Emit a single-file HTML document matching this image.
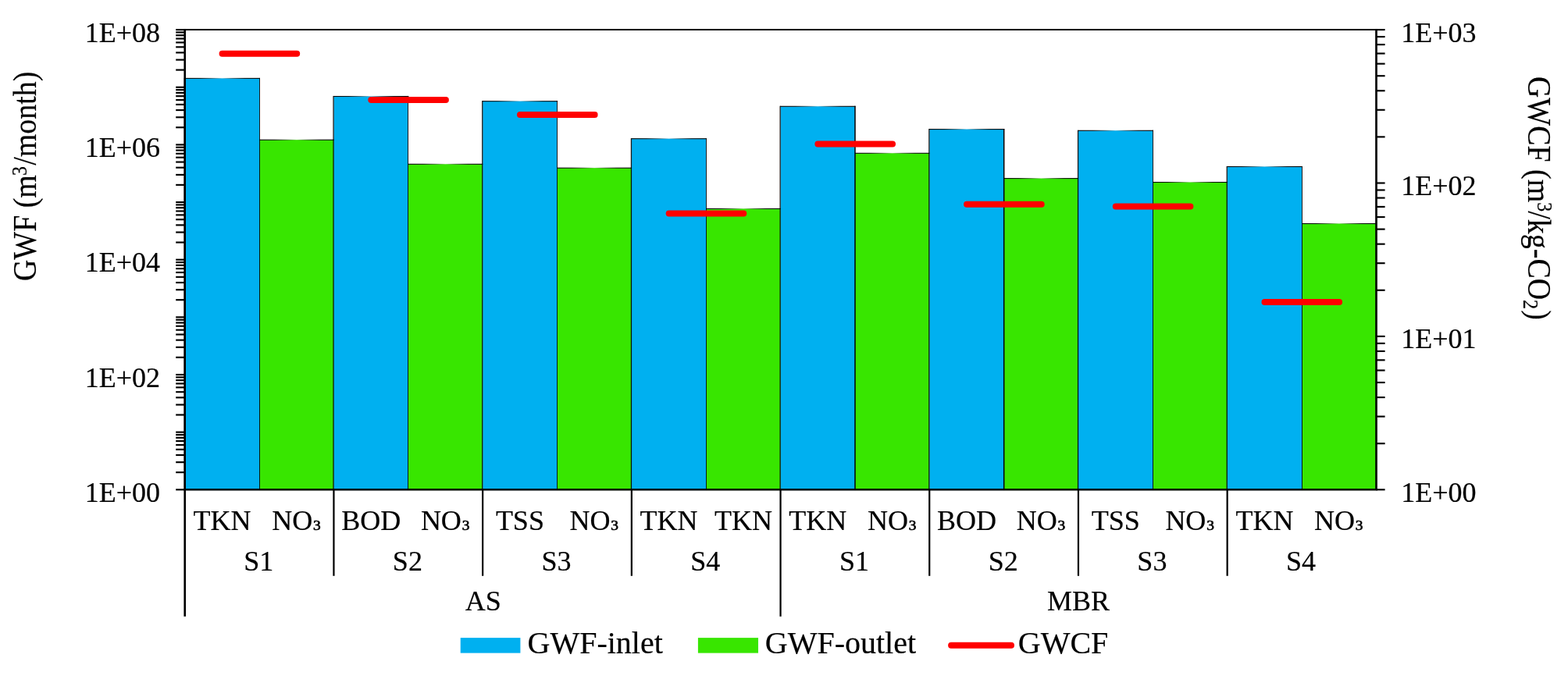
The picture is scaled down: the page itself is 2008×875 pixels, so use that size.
<!DOCTYPE html>
<html lang="en"><head><meta charset="utf-8"><title>GWF and GWCF chart</title>
<style>
html,body{margin:0;padding:0;background:#fff;}
body{width:2008px;height:875px;overflow:hidden;}
svg{display:block;}
</style></head><body>
<svg width="2008" height="875" viewBox="0 0 2008 875" font-family='"Liberation Serif", "DejaVu Serif", serif' fill="#000">
<defs><linearGradient id="edge" x1="0" y1="0" x2="1" y2="0"><stop offset="0" stop-color="#000" stop-opacity="1"/><stop offset="0.2" stop-color="#000" stop-opacity="0.9"/><stop offset="0.36" stop-color="#000" stop-opacity="0.5"/><stop offset="0.5" stop-color="#000" stop-opacity="0.05"/><stop offset="0.64" stop-color="#000" stop-opacity="0.5"/><stop offset="0.8" stop-color="#000" stop-opacity="0.9"/><stop offset="1" stop-color="#000" stop-opacity="1"/></linearGradient></defs>
<rect x="0" y="0" width="2008" height="875" fill="#fff"/>
<g>
<rect x="332.19" y="179.20" width="95.35" height="448.10" fill="#38E600"/><rect x="331.69" y="178.65" width="96.35" height="1.1" fill="url(#edge)"/>
<rect x="522.89" y="210.30" width="95.35" height="417.00" fill="#38E600"/><rect x="522.39" y="209.75" width="96.35" height="1.1" fill="url(#edge)"/>
<rect x="713.59" y="215.20" width="95.35" height="412.10" fill="#38E600"/><rect x="713.09" y="214.65" width="96.35" height="1.1" fill="url(#edge)"/>
<rect x="904.29" y="267.40" width="95.35" height="359.90" fill="#38E600"/><rect x="903.79" y="266.85" width="96.35" height="1.1" fill="url(#edge)"/>
<rect x="1094.99" y="196.30" width="95.35" height="431.00" fill="#38E600"/><rect x="1094.49" y="195.75" width="96.35" height="1.1" fill="url(#edge)"/>
<rect x="1285.69" y="228.60" width="95.35" height="398.70" fill="#38E600"/><rect x="1285.19" y="228.05" width="96.35" height="1.1" fill="url(#edge)"/>
<rect x="1476.39" y="233.50" width="95.35" height="393.80" fill="#38E600"/><rect x="1475.89" y="232.95" width="96.35" height="1.1" fill="url(#edge)"/>
<rect x="1667.09" y="286.50" width="95.35" height="340.80" fill="#38E600"/><rect x="1666.59" y="285.95" width="96.35" height="1.1" fill="url(#edge)"/>
<rect x="236.84" y="100.40" width="95.35" height="526.90" fill="#00B0F0"/><rect x="236.34" y="99.85" width="96.35" height="1.1" fill="url(#edge)"/><rect x="235.69" y="99.85" width="1.3" height="527.45" fill="#000" fill-opacity="0.9"/><rect x="332" y="99.85" width="1" height="527.45" fill="#000" fill-opacity="0.88"/>
<rect x="427.54" y="123.50" width="95.35" height="503.80" fill="#00B0F0"/><rect x="427.04" y="122.95" width="96.35" height="1.1" fill="url(#edge)"/><rect x="426.39" y="122.95" width="1.3" height="504.35" fill="#000" fill-opacity="0.9"/><rect x="522" y="122.95" width="1" height="504.35" fill="#000" fill-opacity="0.88"/>
<rect x="618.24" y="129.70" width="95.35" height="497.60" fill="#00B0F0"/><rect x="617.74" y="129.15" width="96.35" height="1.1" fill="url(#edge)"/><rect x="617.09" y="129.15" width="1.3" height="498.15" fill="#000" fill-opacity="0.9"/><rect x="713" y="129.15" width="1" height="498.15" fill="#000" fill-opacity="0.88"/>
<rect x="808.94" y="177.70" width="95.35" height="449.60" fill="#00B0F0"/><rect x="808.44" y="177.15" width="96.35" height="1.1" fill="url(#edge)"/><rect x="807.79" y="177.15" width="1.3" height="450.15" fill="#000" fill-opacity="0.9"/><rect x="904" y="177.15" width="1" height="450.15" fill="#000" fill-opacity="0.88"/>
<rect x="999.64" y="136.30" width="95.35" height="491.00" fill="#00B0F0"/><rect x="999.14" y="135.75" width="96.35" height="1.1" fill="url(#edge)"/><rect x="998.49" y="135.75" width="1.3" height="491.55" fill="#000" fill-opacity="0.9"/><rect x="1094.24" y="135.75" width="1.5" height="491.55" fill="#000"/>
<rect x="1190.34" y="165.60" width="95.35" height="461.70" fill="#00B0F0"/><rect x="1189.84" y="165.05" width="96.35" height="1.1" fill="url(#edge)"/><rect x="1189.19" y="165.05" width="1.3" height="462.25" fill="#000" fill-opacity="0.9"/><rect x="1284.94" y="165.05" width="1.5" height="462.25" fill="#000"/>
<rect x="1381.04" y="167.30" width="95.35" height="460.00" fill="#00B0F0"/><rect x="1380.54" y="166.75" width="96.35" height="1.1" fill="url(#edge)"/><rect x="1379.89" y="166.75" width="1.3" height="460.55" fill="#000" fill-opacity="0.9"/><rect x="1476" y="166.75" width="1" height="460.55" fill="#000" fill-opacity="0.88"/>
<rect x="1571.74" y="213.50" width="95.35" height="413.80" fill="#00B0F0"/><rect x="1571.24" y="212.95" width="96.35" height="1.1" fill="url(#edge)"/><rect x="1570.59" y="212.95" width="1.3" height="414.35" fill="#000" fill-opacity="0.9"/><rect x="1667" y="212.95" width="1" height="414.35" fill="#000" fill-opacity="0.88"/>
</g>
<g stroke="#FF0000" stroke-width="8" stroke-linecap="round">
<line x1="284.59" y1="68.8" x2="380.19" y2="68.8"/>
<line x1="475.29" y1="128.0" x2="570.89" y2="128.0"/>
<line x1="665.99" y1="146.9" x2="761.59" y2="146.9"/>
<line x1="856.69" y1="273.5" x2="952.29" y2="273.5"/>
<line x1="1047.39" y1="184.5" x2="1142.99" y2="184.5"/>
<line x1="1238.09" y1="261.8" x2="1333.69" y2="261.8"/>
<line x1="1428.79" y1="264.5" x2="1524.39" y2="264.5"/>
<line x1="1619.49" y1="387.1" x2="1715.09" y2="387.1"/>
</g>
<g stroke="#000" fill="none">
<line x1="235.30" y1="38.1" x2="1763.90" y2="38.1" stroke-width="2"/>
<line x1="235.30" y1="627.3" x2="1763.90" y2="627.3" stroke-width="2.4"/>
<line x1="236.7" y1="38.1" x2="236.7" y2="789.8" stroke-width="2.6"/>
<line x1="1762.5" y1="38.1" x2="1762.5" y2="627.3" stroke-width="2.7"/>
<g stroke-width="2.15">
<line x1="225.20" y1="627.30" x2="236.70" y2="627.30"/>
<line x1="225.20" y1="605.13" x2="236.70" y2="605.13"/>
<line x1="225.20" y1="592.16" x2="236.70" y2="592.16"/>
<line x1="225.20" y1="582.96" x2="236.70" y2="582.96"/>
<line x1="225.20" y1="575.82" x2="236.70" y2="575.82"/>
<line x1="225.20" y1="569.99" x2="236.70" y2="569.99"/>
<line x1="225.20" y1="565.06" x2="236.70" y2="565.06"/>
<line x1="225.20" y1="560.79" x2="236.70" y2="560.79"/>
<line x1="225.20" y1="557.02" x2="236.70" y2="557.02"/>
<line x1="225.20" y1="553.65" x2="236.70" y2="553.65"/>
<line x1="225.20" y1="531.48" x2="236.70" y2="531.48"/>
<line x1="225.20" y1="518.51" x2="236.70" y2="518.51"/>
<line x1="225.20" y1="509.31" x2="236.70" y2="509.31"/>
<line x1="225.20" y1="502.17" x2="236.70" y2="502.17"/>
<line x1="225.20" y1="496.34" x2="236.70" y2="496.34"/>
<line x1="225.20" y1="491.41" x2="236.70" y2="491.41"/>
<line x1="225.20" y1="487.14" x2="236.70" y2="487.14"/>
<line x1="225.20" y1="483.37" x2="236.70" y2="483.37"/>
<line x1="225.20" y1="480.00" x2="236.70" y2="480.00"/>
<line x1="225.20" y1="457.83" x2="236.70" y2="457.83"/>
<line x1="225.20" y1="444.86" x2="236.70" y2="444.86"/>
<line x1="225.20" y1="435.66" x2="236.70" y2="435.66"/>
<line x1="225.20" y1="428.52" x2="236.70" y2="428.52"/>
<line x1="225.20" y1="422.69" x2="236.70" y2="422.69"/>
<line x1="225.20" y1="417.76" x2="236.70" y2="417.76"/>
<line x1="225.20" y1="413.49" x2="236.70" y2="413.49"/>
<line x1="225.20" y1="409.72" x2="236.70" y2="409.72"/>
<line x1="225.20" y1="406.35" x2="236.70" y2="406.35"/>
<line x1="225.20" y1="384.18" x2="236.70" y2="384.18"/>
<line x1="225.20" y1="371.21" x2="236.70" y2="371.21"/>
<line x1="225.20" y1="362.01" x2="236.70" y2="362.01"/>
<line x1="225.20" y1="354.87" x2="236.70" y2="354.87"/>
<line x1="225.20" y1="349.04" x2="236.70" y2="349.04"/>
<line x1="225.20" y1="344.11" x2="236.70" y2="344.11"/>
<line x1="225.20" y1="339.84" x2="236.70" y2="339.84"/>
<line x1="225.20" y1="336.07" x2="236.70" y2="336.07"/>
<line x1="225.20" y1="332.70" x2="236.70" y2="332.70"/>
<line x1="225.20" y1="310.53" x2="236.70" y2="310.53"/>
<line x1="225.20" y1="297.56" x2="236.70" y2="297.56"/>
<line x1="225.20" y1="288.36" x2="236.70" y2="288.36"/>
<line x1="225.20" y1="281.22" x2="236.70" y2="281.22"/>
<line x1="225.20" y1="275.39" x2="236.70" y2="275.39"/>
<line x1="225.20" y1="270.46" x2="236.70" y2="270.46"/>
<line x1="225.20" y1="266.19" x2="236.70" y2="266.19"/>
<line x1="225.20" y1="262.42" x2="236.70" y2="262.42"/>
<line x1="225.20" y1="259.05" x2="236.70" y2="259.05"/>
<line x1="225.20" y1="236.88" x2="236.70" y2="236.88"/>
<line x1="225.20" y1="223.91" x2="236.70" y2="223.91"/>
<line x1="225.20" y1="214.71" x2="236.70" y2="214.71"/>
<line x1="225.20" y1="207.57" x2="236.70" y2="207.57"/>
<line x1="225.20" y1="201.74" x2="236.70" y2="201.74"/>
<line x1="225.20" y1="196.81" x2="236.70" y2="196.81"/>
<line x1="225.20" y1="192.54" x2="236.70" y2="192.54"/>
<line x1="225.20" y1="188.77" x2="236.70" y2="188.77"/>
<line x1="225.20" y1="185.40" x2="236.70" y2="185.40"/>
<line x1="225.20" y1="163.23" x2="236.70" y2="163.23"/>
<line x1="225.20" y1="150.26" x2="236.70" y2="150.26"/>
<line x1="225.20" y1="141.06" x2="236.70" y2="141.06"/>
<line x1="225.20" y1="133.92" x2="236.70" y2="133.92"/>
<line x1="225.20" y1="128.09" x2="236.70" y2="128.09"/>
<line x1="225.20" y1="123.16" x2="236.70" y2="123.16"/>
<line x1="225.20" y1="118.89" x2="236.70" y2="118.89"/>
<line x1="225.20" y1="115.12" x2="236.70" y2="115.12"/>
<line x1="225.20" y1="111.75" x2="236.70" y2="111.75"/>
<line x1="225.20" y1="89.58" x2="236.70" y2="89.58"/>
<line x1="225.20" y1="76.61" x2="236.70" y2="76.61"/>
<line x1="225.20" y1="67.41" x2="236.70" y2="67.41"/>
<line x1="225.20" y1="60.27" x2="236.70" y2="60.27"/>
<line x1="225.20" y1="54.44" x2="236.70" y2="54.44"/>
<line x1="225.20" y1="49.51" x2="236.70" y2="49.51"/>
<line x1="225.20" y1="45.24" x2="236.70" y2="45.24"/>
<line x1="225.20" y1="41.47" x2="236.70" y2="41.47"/>
<line x1="225.20" y1="38.10" x2="236.70" y2="38.10"/>
<line x1="1762.50" y1="627.30" x2="1773.60" y2="627.30"/>
<line x1="1762.50" y1="568.18" x2="1773.60" y2="568.18"/>
<line x1="1762.50" y1="533.59" x2="1773.60" y2="533.59"/>
<line x1="1762.50" y1="509.06" x2="1773.60" y2="509.06"/>
<line x1="1762.50" y1="490.02" x2="1773.60" y2="490.02"/>
<line x1="1762.50" y1="474.47" x2="1773.60" y2="474.47"/>
<line x1="1762.50" y1="461.32" x2="1773.60" y2="461.32"/>
<line x1="1762.50" y1="449.93" x2="1773.60" y2="449.93"/>
<line x1="1762.50" y1="439.89" x2="1773.60" y2="439.89"/>
<line x1="1762.50" y1="430.90" x2="1773.60" y2="430.90"/>
<line x1="1762.50" y1="371.78" x2="1773.60" y2="371.78"/>
<line x1="1762.50" y1="337.19" x2="1773.60" y2="337.19"/>
<line x1="1762.50" y1="312.66" x2="1773.60" y2="312.66"/>
<line x1="1762.50" y1="293.62" x2="1773.60" y2="293.62"/>
<line x1="1762.50" y1="278.07" x2="1773.60" y2="278.07"/>
<line x1="1762.50" y1="264.92" x2="1773.60" y2="264.92"/>
<line x1="1762.50" y1="253.53" x2="1773.60" y2="253.53"/>
<line x1="1762.50" y1="243.49" x2="1773.60" y2="243.49"/>
<line x1="1762.50" y1="234.50" x2="1773.60" y2="234.50"/>
<line x1="1762.50" y1="175.38" x2="1773.60" y2="175.38"/>
<line x1="1762.50" y1="140.79" x2="1773.60" y2="140.79"/>
<line x1="1762.50" y1="116.26" x2="1773.60" y2="116.26"/>
<line x1="1762.50" y1="97.22" x2="1773.60" y2="97.22"/>
<line x1="1762.50" y1="81.67" x2="1773.60" y2="81.67"/>
<line x1="1762.50" y1="68.52" x2="1773.60" y2="68.52"/>
<line x1="1762.50" y1="57.13" x2="1773.60" y2="57.13"/>
<line x1="1762.50" y1="47.09" x2="1773.60" y2="47.09"/>
<line x1="1762.50" y1="38.10" x2="1773.60" y2="38.10"/>
</g>
<g stroke-width="2.2">
<line x1="427.44" y1="627.3" x2="427.44" y2="737.8"/>
<line x1="618.14" y1="627.3" x2="618.14" y2="737.8"/>
<line x1="808.84" y1="627.3" x2="808.84" y2="737.8"/>
<line x1="999.54" y1="627.3" x2="999.54" y2="789.8"/>
<line x1="1190.24" y1="627.3" x2="1190.24" y2="737.8"/>
<line x1="1380.94" y1="627.3" x2="1380.94" y2="737.8"/>
<line x1="1571.64" y1="627.3" x2="1571.64" y2="737.8"/>
</g>
</g>
<g stroke="#000" stroke-width="0.2" stroke-linejoin="round">
<g font-size="36px" text-anchor="end">
<text x="205" y="642.80">1E+00</text>
<text x="205" y="495.50">1E+02</text>
<text x="205" y="348.20">1E+04</text>
<text x="205" y="200.90">1E+06</text>
<text x="205" y="53.60">1E+08</text>
</g>
<g font-size="36px" text-anchor="start">
<text x="1794.3" y="642.80">1E+00</text>
<text x="1794.3" y="446.40">1E+01</text>
<text x="1794.3" y="250.00">1E+02</text>
<text x="1794.3" y="53.60">1E+03</text>
</g>
<g font-size="36px" text-anchor="middle">
<text x="284.51" y="679.3">TKN</text>
<text x="379.87" y="679.3">NO<tspan font-size="32.5px" dy="-6.6" stroke-width="0.7">₃</tspan></text>
<text x="475.22" y="679.3">BOD</text>
<text x="570.56" y="679.3">NO<tspan font-size="32.5px" dy="-6.6" stroke-width="0.7">₃</tspan></text>
<text x="665.91" y="679.3">TSS</text>
<text x="761.26" y="679.3">NO<tspan font-size="32.5px" dy="-6.6" stroke-width="0.7">₃</tspan></text>
<text x="856.62" y="679.3">TKN</text>
<text x="951.97" y="679.3">TKN</text>
<text x="1047.31" y="679.3">TKN</text>
<text x="1142.66" y="679.3">NO<tspan font-size="32.5px" dy="-6.6" stroke-width="0.7">₃</tspan></text>
<text x="1238.01" y="679.3">BOD</text>
<text x="1333.36" y="679.3">NO<tspan font-size="32.5px" dy="-6.6" stroke-width="0.7">₃</tspan></text>
<text x="1428.71" y="679.3">TSS</text>
<text x="1524.06" y="679.3">NO<tspan font-size="32.5px" dy="-6.6" stroke-width="0.7">₃</tspan></text>
<text x="1619.41" y="679.3">TKN</text>
<text x="1714.76" y="679.3">NO<tspan font-size="32.5px" dy="-6.6" stroke-width="0.7">₃</tspan></text>
<text x="331.19" y="731">S1</text>
<text x="521.89" y="731">S2</text>
<text x="712.59" y="731">S3</text>
<text x="903.29" y="731">S4</text>
<text x="1093.99" y="731">S1</text>
<text x="1284.69" y="731">S2</text>
<text x="1475.39" y="731">S3</text>
<text x="1666.09" y="731">S4</text>
<text x="618.7" y="782.3">AS</text>
<text x="1381" y="782.3">MBR</text>
</g>
<g font-size="40px">
<text x="675.5" y="836.8">GWF-inlet</text>
<text x="979.8" y="836.8">GWF-outlet</text>
<text x="1303.8" y="836.8">GWCF</text>
</g>
<g font-size="42.5px" text-anchor="middle">
<text transform="translate(46.3,225.9) rotate(-90) scale(0.893,1)">GWF (m<tspan font-size="26.5px" dy="-12.2" dx="-1">3</tspan><tspan dy="12.2" dx="1.5">/month)</tspan></text>
<text transform="translate(1957.2,253.9) rotate(90) scale(0.893,1)">GWCF (m<tspan font-size="26.5px" dy="-12.2">3</tspan><tspan dy="12.2" dx="-0.8">/kg-CO</tspan><tspan font-size="27px" dy="6.5">2</tspan><tspan dy="-6.5" dx="1.2">)</tspan></text>
</g>
</g>
<rect x="589.7" y="817.1" width="76.7" height="19.5" fill="#00B0F0"/>
<rect x="893.9" y="817.1" width="77.1" height="19.5" fill="#38E600"/>
<line x1="1218.1" y1="826.8" x2="1295" y2="826.8" stroke="#FF0000" stroke-width="8" stroke-linecap="round"/>
</svg>
</body></html>
